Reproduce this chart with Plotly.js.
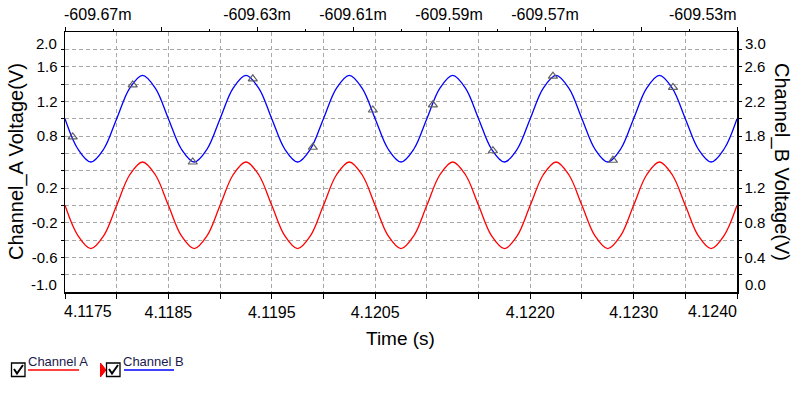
<!DOCTYPE html>
<html><head><meta charset="utf-8">
<script src="https://cdn.plot.ly/plotly-3.0.1.min.js"></script>
<style>html,body{margin:0;padding:0;background:#fff}#chart{width:795px;height:393px}</style>
</head><body><div id="chart"></div>
<script>
// ---- data ----
const time = [
 4.1175, 4.117625, 4.11775, 4.117875, 4.118, 4.118125, 4.11825, 4.118375,
 4.1185, 4.118625, 4.11875, 4.118875, 4.119, 4.119125, 4.11925, 4.119375,
 4.1195, 4.119625, 4.11975, 4.119875, 4.12, 4.120125, 4.12025, 4.120375,
 4.1205, 4.120625, 4.12075, 4.120875, 4.121, 4.121125, 4.12125, 4.121375,
 4.1215, 4.121625, 4.12175, 4.121875, 4.122, 4.122125, 4.12225, 4.122375,
 4.1225, 4.122625, 4.12275, 4.122875, 4.123, 4.123125, 4.12325, 4.123375,
 4.1235, 4.123625, 4.12375, 4.123875, 4.124
];
const channelA = [
 0, -0.35, -0.5, -0.35, 0, 0.35, 0.5, 0.35,
 0, -0.35, -0.5, -0.35, 0, 0.35, 0.5, 0.35,
 0, -0.35, -0.5, -0.35, 0, 0.35, 0.5, 0.35,
 0, -0.35, -0.5, -0.35, 0, 0.35, 0.5, 0.35,
 0, -0.35, -0.5, -0.35, 0, 0.35, 0.5, 0.35,
 0, -0.35, -0.5, -0.35, 0, 0.35, 0.5, 0.35,
 0, -0.35, -0.5, -0.35, 0
];
const channelB = [
 2.0, 1.65, 1.5, 1.65, 2.0, 2.35, 2.5, 2.35,
 2.0, 1.65, 1.5, 1.65, 2.0, 2.35, 2.5, 2.35,
 2.0, 1.65, 1.5, 1.65, 2.0, 2.35, 2.5, 2.35,
 2.0, 1.65, 1.5, 1.65, 2.0, 2.35, 2.5, 2.35,
 2.0, 1.65, 1.5, 1.65, 2.0, 2.35, 2.5, 2.35,
 2.0, 1.65, 1.5, 1.65, 2.0, 2.35, 2.5, 2.35,
 2.0, 1.65, 1.5, 1.65, 2.0
];
const markerTime = [4.1175745, 4.1181551, 4.1187358, 4.1193164, 4.1198971, 4.1204777,
                    4.1210584, 4.121639, 4.1222197, 4.1228003, 4.123381];
const markerB = [1.79, 2.39, 1.50, 2.46, 1.67, 2.10, 2.16, 1.63, 2.49, 1.52, 2.36];

const xTickVals = [4.1175, 4.118, 4.1185, 4.119, 4.1195, 4.12, 4.1205, 4.121, 4.1215, 4.122, 4.1225, 4.123, 4.1235, 4.124];
const xTickText = ['', '', '4.1185', '', '4.1195', '', '4.1205', '', '', '4.1220', '', '4.1230', '', ''];
const topTickVals = [-609.67, -609.65, -609.63, -609.61, -609.59, -609.57, -609.55, -609.53];
const topTickText = ['', '', '-609.63m', '-609.61m', '-609.59m', '-609.57m', '', ''];
const topMinorVals = [-609.66, -609.64, -609.62, -609.60, -609.58, -609.56, -609.54];
const yLeftVals = [-0.8, -0.6, -0.4, -0.2, 0, 0.2, 0.4, 0.6, 0.8, 1.0, 1.2, 1.4, 1.6, 1.8];
const yLeftText = ['', '-0.6', '', '-0.2', '', '0.2', '', '', '0.8', '', '1.2', '', '1.6', ''];
const yRightVals = [0.2, 0.4, 0.6, 0.8, 1.0, 1.2, 1.4, 1.6, 1.8, 2.0, 2.2, 2.4, 2.6, 2.8];
const yRightText = ['', '0.4', '', '0.8', '', '1.2', '', '', '1.8', '', '2.2', '', '2.6', ''];
const xRange = [4.1175, 4.1240];
const topRange = [-609.67, -609.53];
const yLeftRange = [-1.0, 2.0];
const yRightRange = [0.0, 3.0];

// ---- layout helpers (pixel -> paper) ----
const M = {l: 65, r: 58, t: 32, b: 101};
const W = 795, H = 393;
const PW = W - M.l - M.r, PH = H - M.t - M.b;
const px = X => (X - M.l) / PW;
const py = Y => (H - M.b - Y) / PH;

const FONT = 'Liberation Sans, Arial, sans-serif';
const GRID = '#a8a8a8';

function ann(text, X, Y, xa, ya, size, extra) {
  return Object.assign({text: text, xref: 'paper', yref: 'paper', x: px(X), y: py(Y),
    xanchor: xa, yanchor: ya, showarrow: false, borderpad: 0, borderwidth: 0,
    font: {family: FONT, size: size, color: '#000'}}, extra || {});
}

const annotations = [
  ann('Channel_A Voltage(V)', 16, 162, 'center', 'middle', 20, {textangle: -90}),
  ann('Channel_B Voltage(V)', 782, 162, 'center', 'middle', 20, {textangle: 90}),
  ann('Time (s)', 400.5, 338, 'center', 'middle', 19),
  ann(String(xRange[0].toFixed(4)), 64, 311, 'left', 'middle', 16),
  ann(String(xRange[1].toFixed(4)), 737, 311, 'right', 'middle', 16),
  ann(topRange[0].toFixed(2) + 'm', 64, 14, 'left', 'middle', 16),
  ann(topRange[1].toFixed(2) + 'm', 737, 14, 'right', 'middle', 16),
  ann(yLeftRange[1].toFixed(1), 57, 43.5, 'right', 'middle', 15),
  ann(yLeftRange[0].toFixed(1), 57, 284, 'right', 'middle', 15),
  ann(yRightRange[1].toFixed(1), 745, 43.5, 'left', 'middle', 15),
  ann(yRightRange[0].toFixed(1), 745, 284, 'left', 'middle', 15),
  ann('Channel A', 28, 361, 'left', 'middle', 13, {font: {family: FONT, size: 13, color: '#1a1a4d'}}),
  ann('Channel B', 123, 361, 'left', 'middle', 13, {font: {family: FONT, size: 13, color: '#1a1a4d'}})
];

function rect(x0, y0, x1, y1, color) {
  return {type: 'rect', xref: 'paper', yref: 'paper', x0: px(x0), x1: px(x1), y0: py(y0), y1: py(y1),
    line: {color: color, width: 1.3}, fillcolor: 'rgba(0,0,0,0)'};
}
function line(x0, y0, x1, y1, color, w) {
  return {type: 'line', xref: 'paper', yref: 'paper', x0: px(x0), x1: px(x1), y0: py(y0), y1: py(y1),
    line: {color: color, width: w}};
}
function pathP(pts, color, fill, w) {
  const d = pts.map((p, i) => (i ? 'L' : 'M') + px(p[0]) + ',' + py(p[1])).join(' ') + (fill ? ' Z' : '');
  return {type: 'path', xref: 'paper', yref: 'paper', path: d,
    line: {color: color, width: w}, fillcolor: fill || 'rgba(0,0,0,0)'};
}
const shapes = [
  rect(11.5, 363, 25, 376.5, '#000'),
  pathP([[14, 369], [17, 373.5], [23, 365]], '#000', null, 2),
  line(28, 370, 79, 370, '#ff0000', 1.3),
  pathP([[100.5, 363], [106, 370], [100.5, 377]], '#ff0000', '#ff0000', 1),
  rect(106.5, 363, 120, 376.5, '#000'),
  pathP([[109, 369], [112, 373.5], [118, 365]], '#000', null, 2),
  line(124, 370, 174, 370, '#0000ff', 1.3)
];

const traces = [
  {x: time, y: channelA, type: 'scatter', mode: 'lines', name: 'Channel A',
   line: {color: '#ff0000', width: 1.3, shape: 'spline', smoothing: 1}, xaxis: 'x', yaxis: 'y'},
  {x: time, y: channelB, type: 'scatter', mode: 'lines', name: 'Channel B',
   line: {color: '#0000ff', width: 1.3, shape: 'spline', smoothing: 1}, xaxis: 'x', yaxis: 'y2'},
  {x: markerTime, y: markerB, type: 'scatter', mode: 'markers', name: 'markers',
   marker: {symbol: 'triangle-up-open', size: 8, color: '#606060', line: {width: 1.2, color: '#606060'}},
   xaxis: 'x', yaxis: 'y2'},
  // invisible carrier so the top (relative-time) axis is drawn
  {x: topRange, y: yLeftRange, type: 'scatter', mode: 'lines', opacity: 0, hoverinfo: 'skip',
   line: {width: 0, color: 'rgba(0,0,0,0)'}, xaxis: 'x2', yaxis: 'y', showlegend: false}
];

const tickFont = {family: FONT, size: 16, color: '#000'};
const yFont = {family: FONT, size: 15, color: '#000'};

const layout = {
  width: W, height: H, margin: M, showlegend: false,
  paper_bgcolor: '#fff', plot_bgcolor: '#fff',
  font: {family: FONT, color: '#000'},
  xaxis: {range: xRange, tickmode: 'array', tickvals: xTickVals, ticktext: xTickText,
    ticks: 'outside', ticklen: 5, tickwidth: 1, tickcolor: '#000',
    showline: true, linecolor: '#000', linewidth: 1.5,
    showgrid: true, gridcolor: GRID, gridwidth: 1, griddash: '4px,3px',
    zeroline: false, tickfont: tickFont, fixedrange: true},
  xaxis2: {range: topRange, overlaying: 'x', side: 'top', anchor: 'y', tickmode: 'array',
    tickvals: topTickVals, ticktext: topTickText,
    ticks: 'outside', ticklen: 4, tickwidth: 1, tickcolor: '#000',
    minor: {tickvals: topMinorVals, ticks: 'outside', ticklen: 2, tickcolor: '#000', showgrid: false},
    showline: true, linecolor: '#000', linewidth: 1.5, showgrid: false, zeroline: false,
    tickfont: tickFont, fixedrange: true},
  yaxis: {range: yLeftRange, tickmode: 'array', tickvals: yLeftVals, ticktext: yLeftText,
    ticks: 'outside', ticklen: 3, tickwidth: 1, tickcolor: '#000',
    showline: true, linecolor: '#000', linewidth: 1.5,
    showgrid: true, gridcolor: GRID, gridwidth: 1, griddash: '4px,3px',
    zeroline: false, tickfont: yFont, fixedrange: true},
  yaxis2: {range: yRightRange, overlaying: 'y', side: 'right', anchor: 'x', tickmode: 'array',
    tickvals: yRightVals, ticktext: yRightText,
    ticks: 'outside', ticklen: 3, tickwidth: 1, tickcolor: '#000',
    showline: true, linecolor: '#000', linewidth: 1.5, showgrid: false, zeroline: false,
    tickfont: yFont, fixedrange: true},
  annotations: annotations,
  shapes: shapes
};

Plotly.newPlot('chart', traces, layout, {displayModeBar: false, staticPlot: true});
</script>
</body></html>
